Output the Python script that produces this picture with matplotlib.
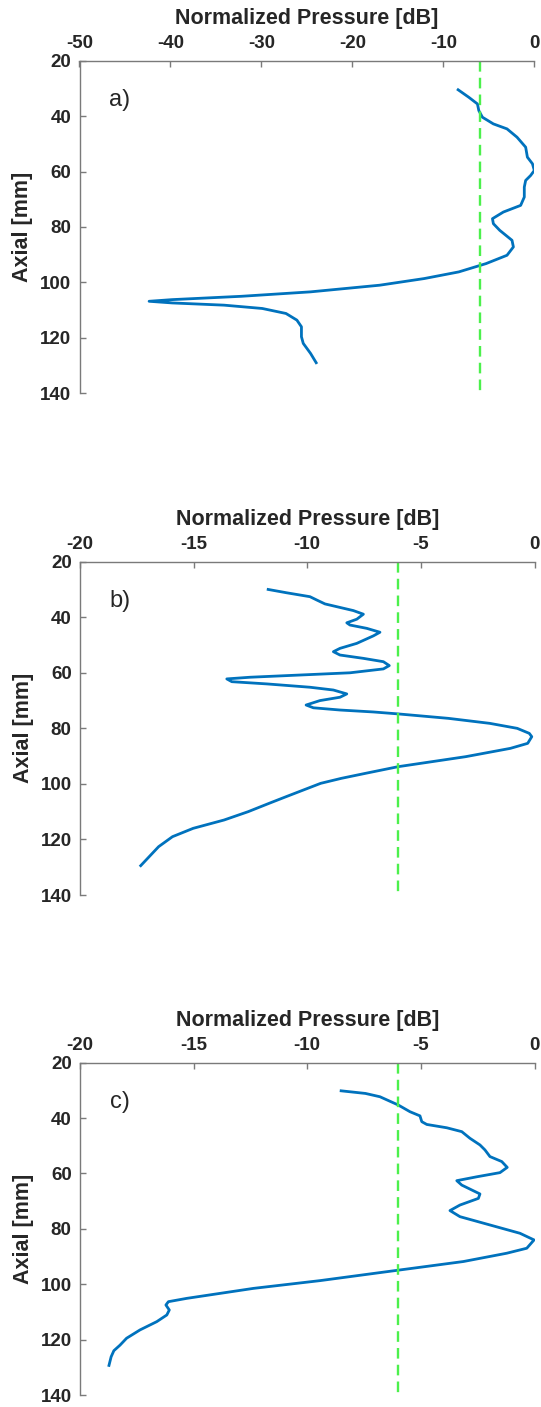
import matplotlib
matplotlib.use("Agg")
import matplotlib.pyplot as plt

# ---- data ----
a_db = [-8.5, -7.2, -6.25, -6.1, -5.7, -4.5, -3.0, -1.9, -0.95, -0.76, -0.2, 0.0, -0.4, -0.95,
        -1.1, -1.1, -1.5, -3.4, -4.6, -4.5, -3.8, -2.45, -2.3, -3.0, -5.3, -8.3, -12.1, -17.0,
        -24.6, -32.2, -39.8, -42.35, -39.8, -34.1, -29.9, -27.3, -26.1, -25.6, -25.6, -25.4,
        -24.6, -23.9]
a_mm = [30.2, 33.2, 35.6, 38.0, 40.4, 42.8, 44.6, 47.6, 51.2, 54.8, 57.2, 59.6, 61.4, 63.2,
        65.6, 69.2, 72.2, 74.6, 77.0, 78.8, 81.2, 84.8, 87.2, 90.2, 93.2, 96.2, 98.6, 101.0,
        103.4, 105.0, 106.2, 106.8, 107.4, 108.2, 109.4, 111.2, 113.6, 116.0, 119.6, 122.0,
        125.6, 129.4]

b_db = [-11.78, -10.9, -9.88, -9.58, -9.22, -8.7, -7.97, -7.53, -7.82, -8.26, -8.12, -7.38,
        -6.8, -7.09, -7.82, -8.56, -8.85, -8.56, -7.53, -6.65, -6.39, -6.65, -8.12, -10.32,
        -12.52, -13.54, -13.32, -11.78, -9.88, -8.85, -8.26, -8.56, -9.44, -10.05, -9.73,
        -8.56, -7.09, -6.0, -3.79, -1.97, -0.76, -0.23, -0.12, -0.3, -1.06, -3.03, -6.0, -7.44,
        -8.5, -9.41, -10.17, -10.93, -11.68, -12.6, -13.66, -15.02, -15.93, -16.54, -17.37]
b_mm = [29.9, 31.2, 32.6, 33.8, 35.2, 36.2, 37.6, 38.9, 40.7, 42.0, 42.8, 44.0, 45.4, 46.7,
        49.4, 51.2, 52.4, 53.6, 54.8, 56.0, 57.4, 58.6, 60.0, 60.8, 61.6, 62.2, 63.2, 64.0,
        65.2, 66.2, 67.6, 68.8, 70.0, 71.6, 72.6, 73.4, 74.1, 74.8, 76.4, 78.2, 80.0, 81.8,
        83.0, 85.4, 87.2, 90.2, 93.8, 96.2, 98.0, 99.8, 102.2, 104.6, 107.0, 110.0, 113.0,
        116.0, 119.0, 122.6, 129.8]

c_db = [-8.57, -7.44, -6.8, -5.99, -5.48, -5.04, -4.96, -4.74, -3.86, -3.2, -2.84, -2.4,
        -2.18, -1.96, -1.44, -1.2, -1.52, -2.54, -3.42, -3.2, -2.4, -2.47, -3.28, -3.72,
        -3.28, -1.96, -0.64, -0.02, -0.34, -1.22, -3.13, -5.33, -6.8, -9.44, -12.37, -15.3,
        -16.11, -16.22, -16.07, -16.18, -16.62, -17.36, -17.95, -18.24, -18.51, -18.63, -18.74]
c_mm = [30.1, 31.1, 32.3, 35.3, 37.7, 39.2, 41.3, 42.3, 43.5, 44.9, 47.3, 49.7, 51.5, 53.9,
        55.7, 57.8, 59.7, 61.2, 62.6, 64.2, 67.4, 69.0, 71.4, 73.4, 75.6, 78.6, 81.6, 84.0,
        87.0, 88.8, 91.8, 94.2, 95.8, 98.7, 101.5, 105.1, 106.3, 107.5, 109.3, 111.1, 113.5,
        116.5, 119.5, 122.0, 124.0, 126.2, 129.8]

threshold_db = -6
panel_labels = ["a)", "b)", "c)"]
x_limits = [(-50, 0), (-20, 0), (-20, 0)]
x_ticks = [[-50, -40, -30, -20, -10, 0], [-20, -15, -10, -5, 0], [-20, -15, -10, -5, 0]]
y_ticks = [20, 40, 60, 80, 100, 120, 140]
series = [(a_db, a_mm), (b_db, b_mm), (c_db, c_mm)]

# ---- figure ----
plt.rcParams['font.family'] = ['Liberation Sans', 'DejaVu Sans']
plt.rcParams['axes.unicode_minus'] = False
W, H = 541, 1407
fig = plt.figure(figsize=(W / 100, H / 100), dpi=100)

boxes = [(79.5, 60.7, 534.3, 393.3), (80, 561.7, 534.5, 895), (80, 1062.7, 534.5, 1395)]
line_col = '#0072BD'
txt_col = '#262626'
spine_col = '#7a7a7a'

for i, (x0, y0, x1, y1) in enumerate(boxes):
    ax = fig.add_axes([x0 / W, 1 - y1 / H, (x1 - x0) / W, (y1 - y0) / H])
    xs, ys = series[i]
    ax.plot(xs, ys, color=line_col, lw=2.0, solid_joinstyle='round', solid_capstyle='butt')
    ax.plot([threshold_db, threshold_db], [20, 140], color='#4CF04C', lw=1.7,
            linestyle=(0, (4.5, 2.6)))
    ax.set_xlim(*x_limits[i])
    ax.set_ylim(140, 20)
    ax.set_xticks(x_ticks[i])
    ax.set_yticks(y_ticks)
    ax.xaxis.tick_top()
    ax.xaxis.set_label_position('top')
    for s in ['right', 'bottom']:
        ax.spines[s].set_visible(False)
    for s in ['left', 'top']:
        ax.spines[s].set_color(spine_col)
        ax.spines[s].set_linewidth(1.0)
    ax.tick_params(direction='in', length=4, width=1.0, color=spine_col,
                   labelsize=13.5, labelcolor=txt_col, pad=6)
    for lab in ax.get_xticklabels() + ax.get_yticklabels():
        lab.set_fontweight('bold')
    ax.set_xlabel('Normalized Pressure [dB]', fontsize=15.5, fontweight='bold',
                  color=txt_col, labelpad=8)
    ax.set_ylabel('Axial [mm]', fontsize=15.5, fontweight='bold', color=txt_col, labelpad=5)
    ax.text(0.065, 0.882, panel_labels[i], transform=ax.transAxes, fontsize=17,
            color=txt_col, va='center', ha='left')
    ax.set_facecolor('none')

fig.savefig('out.png', dpi=100, facecolor='white')
